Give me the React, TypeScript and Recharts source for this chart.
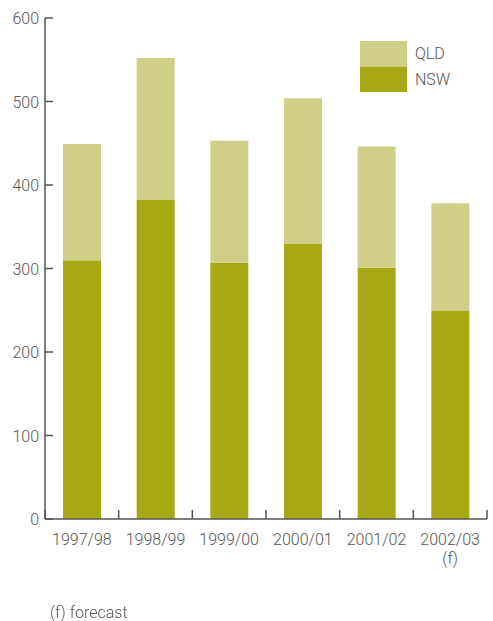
import { BarChart, Bar, XAxis, YAxis } from "recharts"

const years = ["1997/98", "1998/99", "1999/00", "2000/01", "2001/02", "2002/03"]
const nsw = [310, 382, 307, 330, 301, 249]
const qld = [139, 170, 146, 174, 145, 129]
const yTicks = [0, 100, 200, 300, 400, 500, 600]
const forecastYears = ["2002/03"]

const NSW_COLOR = "#a6a915"
const QLD_COLOR = "#cfcf88"
const TEXT = "#555"
const AXIS = "#555"
const FONT = "Roboto, 'Liberation Sans', sans-serif"

const data = years.map((year, i) => ({ year, nsw: nsw[i], qld: qld[i] }))

const CHART_W = 493
const CHART_H = 580
const LEFT = 45
const RIGHT_END = 487
const band = (RIGHT_END - LEFT) / years.length
// recharts offsets tick positions by tickSize + tickMargin (6 + 2)
const TICK_OFFSET = 8

function YTick({ x, y, payload }: any) {
  const ax = x + TICK_OFFSET
  return (
    <g>
      <line x1={ax} x2={ax + 8} y1={y} y2={y} stroke={AXIS} strokeWidth={1.5} />
      <text x={ax - 6} y={y} dy={6} textAnchor="end" fontSize={16} fontWeight={300} fill={TEXT} fontFamily={FONT}>
        {payload.value}
      </text>
    </g>
  )
}

function XTick({ x, y, payload, index }: any) {
  const ay = y - TICK_OFFSET
  const isLast = index === years.length - 1
  const forecast = forecastYears.includes(payload.value)
  return (
    <g>
      <line x1={x - band / 2} x2={x - band / 2} y1={ay} y2={ay - 9} stroke={AXIS} strokeWidth={1.5} />
      {isLast && (
        <line x1={x + band / 2} x2={x + band / 2} y1={ay} y2={ay - 9} stroke={AXIS} strokeWidth={1.5} />
      )}
      <text x={x} y={ay + 26} textAnchor="middle" fontSize={16} fontWeight={300} fill={TEXT} fontFamily={FONT}>
        {payload.value}
      </text>
      {forecast && (
        <text x={x} y={ay + 45} textAnchor="middle" fontSize={16} fontWeight={300} fill={TEXT} fontFamily={FONT}>
          (f)
        </text>
      )}
    </g>
  )
}

function LegendBox() {
  const items = [
    { label: "QLD", color: QLD_COLOR },
    { label: "NSW", color: NSW_COLOR },
  ]
  return (
    <div style={{ position: "absolute", left: 360, top: 41, fontFamily: FONT }}>
      {items.map((it) => (
        <div key={it.label} style={{ display: "flex", alignItems: "center", height: 25.5 }}>
          <span style={{ width: 47, height: 25.5, background: it.color, display: "inline-block" }} />
          <span style={{ marginLeft: 8, fontSize: 16, fontWeight: 300, color: TEXT }}>{it.label}</span>
        </div>
      ))}
    </div>
  )
}

export default function App() {
  return (
    <div style={{ position: "fixed", left: 0, top: 0, width: 493, height: 621, background: "#fff" }}>
      <BarChart
        width={CHART_W}
        height={CHART_H}
        data={data}
        margin={{ top: 18, right: CHART_W - RIGHT_END, left: 0, bottom: 0 }}
        barCategoryGap={0}
      >
        <XAxis
          dataKey="year"
          height={61}
          axisLine={{ stroke: AXIS, strokeWidth: 1.5 }}
          tickLine={false}
          tick={<XTick />}
          interval={0}
        />
        <YAxis
          width={LEFT}
          domain={[0, 600]}
          ticks={yTicks}
          axisLine={{ stroke: AXIS, strokeWidth: 1.5 }}
          tickLine={false}
          tick={<YTick />}
          interval={0}
        />
        <Bar dataKey="nsw" name="NSW" stackId="a" fill={NSW_COLOR} barSize={38} isAnimationActive={false} />
        <Bar dataKey="qld" name="QLD" stackId="a" fill={QLD_COLOR} barSize={38} isAnimationActive={false} />
      </BarChart>
      <LegendBox />
      <div
        style={{
          position: "absolute",
          left: 50,
          top: 603,
          fontFamily: FONT,
          fontSize: 16,
          fontWeight: 300,
          color: TEXT,
        }}
      >
        (f) forecast
      </div>
    </div>
  )
}
